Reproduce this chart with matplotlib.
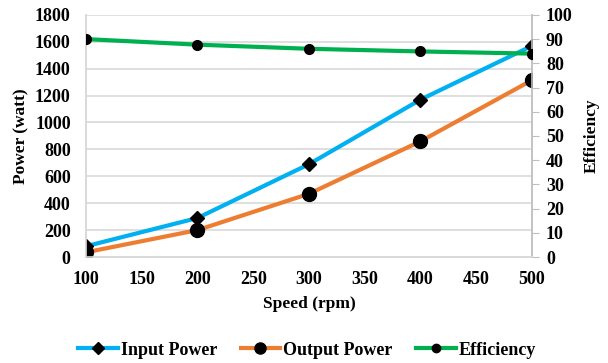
import matplotlib.pyplot as plt
from matplotlib.lines import Line2D

plt.rcParams['font.family'] = ['Liberation Serif', 'DejaVu Serif']
plt.rcParams['font.weight'] = 'bold'

speed = [100, 200, 300, 400, 500]
input_power = [80, 290, 690, 1170, 1570]
output_power = [35, 200, 470, 860, 1315]
efficiency = [90, 87.7, 86, 84.9, 84]

blue = '#00B0F0'
orange = '#ED7D31'
green = '#00B050'
grid_col = '#D9D9D9'

fig = plt.figure(figsize=(6.08, 3.63), dpi=100)
ax = fig.add_axes([0.1414, 0.292, 0.7336, 0.667])
ax2 = ax.twinx()

ax.plot(speed, input_power, color=blue, lw=3, marker='D', ms=7,
        mfc='black', mec='black', zorder=3)
ax.plot(speed, output_power, color=orange, lw=3, marker='o', ms=10,
        mfc='black', mec='black', zorder=3)
ax2.plot(speed, efficiency, color=green, lw=3, marker='o', ms=7,
         mfc='black', mec='black', zorder=3)

ax.set_xlim(100, 500)
ax.set_ylim(0, 1800)
ax.set_yticks(range(0, 1801, 200))
ax.set_xticks(range(100, 501, 50))
ax2.set_ylim(0, 100)
ax2.set_yticks(range(0, 101, 10))

ax.yaxis.grid(True, color=grid_col, lw=1.2)
ax.set_axisbelow(True)
for a in (ax, ax2):
    for s in a.spines.values():
        s.set_color(grid_col)
        s.set_linewidth(1.2)
    a.spines['top'].set_visible(False)
ax2.spines['right'].set_color('#BFBFBF')

ax.tick_params(axis='y', labelsize=13, length=0, pad=11)
ax.tick_params(axis='x', labelsize=13, length=0, pad=10)
ax2.tick_params(axis='y', labelsize=13, length=5, color='#BFBFBF', pad=5)
for a in (ax, ax2):
    for lbl in a.get_xticklabels() + a.get_yticklabels():
        lbl.set_fontweight('bold')

ax.set_xlabel('Speed (rpm)', fontsize=12.5, fontweight='bold', labelpad=6)
ax.set_ylabel('Power (watt)', fontsize=12.5, fontweight='bold', labelpad=4)
ax2.set_ylabel('Efficiency', fontsize=12.5, fontweight='bold', labelpad=8)

handles = [
    Line2D([], [], color=blue, lw=3, marker='D', ms=6, mfc='black', mec='black'),
    Line2D([], [], color=orange, lw=3, marker='o', ms=8, mfc='black', mec='black'),
    Line2D([], [], color=green, lw=3, marker='o', ms=6, mfc='black', mec='black'),
]
fig.legend(handles, ['Input Power', 'Output Power', 'Efficiency'],
           loc='center', bbox_to_anchor=(0.505, 0.035), ncol=3, frameon=False,
           prop={'size': 13, 'weight': 'bold'}, handlelength=2.2,
           handletextpad=0.15, columnspacing=1.3)

fig.savefig('out.png', dpi=100)
